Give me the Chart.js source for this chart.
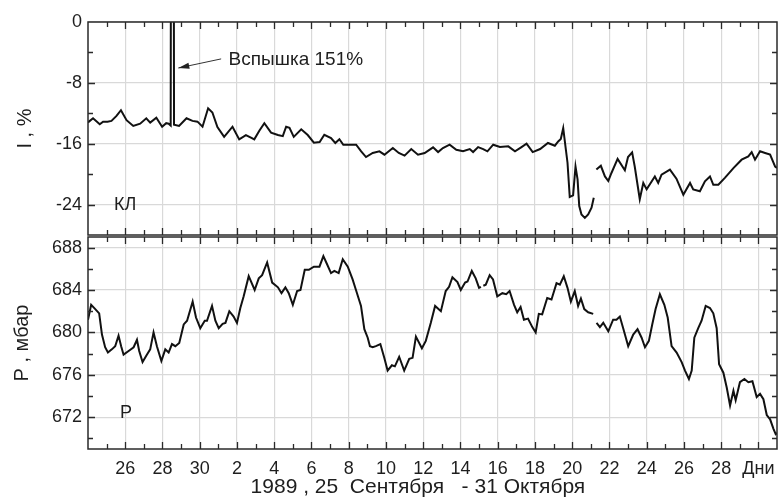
<!DOCTYPE html>
<html>
<head>
<meta charset="utf-8">
<script src="https://cdn.jsdelivr.net/npm/chart.js@4.4.1/dist/chart.umd.min.js"></script>
<style>
  body { margin: 0; background: #fff; }
  #wrap { position: relative; width: 779px; height: 501px; }
  canvas { position: absolute; left: 0; }
  #topChart { top: 0; }
  #bottomChart { top: 236px; }
</style>
</head>
<body>
<div id="wrap">
  <canvas id="topChart" width="779" height="237"></canvas>
  <canvas id="bottomChart" width="779" height="265"></canvas>
</div>
<script>
// Ось X: дни от 24 сентября (0) до 31 октября (37)
const xTickDays = [2, 4, 6, 8, 10, 12, 14, 16, 18, 20, 22, 24, 26, 28, 30, 32, 34, 36]
const xTickLabels = ['26', '28', '30', '2', '4', '6', '8', '10', '12', '14', '16', '18', '20', '22', '24', '26', '28', 'Дни']

// Верхняя панель: интенсивность КЛ, %
const iTicks = [-24, -16, -8, 0]
const iDays = [0, 0.27, 0.63, 0.81, 1.05, 1.26, 1.53, 1.77, 2.07, 2.43, 2.8, 3.13, 3.34, 3.67, 3.98, 4.2, 4.33, 4.44, 4.53, 4.62,
  4.89, 5.29, 5.61, 5.88, 6.15, 6.45, 6.68, 6.95, 7.31, 7.76, 8.12, 8.48, 8.75, 8.93, 9.2, 9.47, 9.83, 10.2, 10.46, 10.64,
  10.82, 11.05, 11.45, 11.8, 12.13, 12.44, 12.69, 13.05, 13.28, 13.5, 13.71, 14.04, 14.4, 14.67, 14.93, 15.29, 15.65, 15.92, 16.37, 16.69,
  17.0, 17.36, 17.72, 18.08, 18.53, 18.8, 19.06, 19.42, 19.78, 20.14, 20.5, 20.68, 20.95, 21.22, 21.45, 21.76, 22.12, 22.57, 22.93, 23.28,
  23.55, 23.88, 24.28, 24.7, 25.07, 25.25, 25.39, 25.52, 25.64, 25.75, 25.87, 26.05, 26.18, 26.29, 26.38, 26.5, 26.68, 26.86, 27.04, 27.16,
  27.23, 27.3, 27.54, 27.76, 27.94, 28.11, 28.44, 28.83, 29.0, 29.22, 29.36, 29.63, 29.82, 30.0, 30.44, 30.62, 30.8, 31.25, 31.6, 31.97,
  32.33, 32.5, 32.86, 33.13, 33.4, 33.58, 33.85, 34.2, 34.66, 35.1, 35.46, 35.64, 35.82, 36.09, 36.36, 36.63, 36.9, 37.0]
const iVals = [-13.2, -12.66, -13.45, -13.1, -13.1, -13.0, -12.35, -11.6, -12.9, -13.67, -13.36, -12.66, -13.23, -12.57, -13.76, -13.3, -13.36, -13.6, 151, -13.5,
  -13.67, -12.66, -13.0, -13.1, -13.76, -11.34, -11.9, -13.8, -15.1, -13.76, -15.43, -14.86, -15.2, -15.43, -14.3, -13.3, -14.55, -14.86, -15.0, -13.76,
  -13.9, -15.1, -14.1, -14.86, -15.87, -15.78, -14.82, -15.26, -15.9, -15.4, -16.13, -16.13, -16.13, -17.0, -17.75, -17.22, -17.0, -17.44, -16.57, -17.22,
  -17.57, -16.7, -17.44, -17.22, -16.48, -17.1, -16.57, -16.13, -16.79, -17.0, -16.7, -17.1, -16.44, -16.7, -17.0, -16.13, -16.44, -16.35, -17.0, -16.44,
  -16.0, -17.1, -16.7, -15.9, -16.26, -15.7, -15.39, -13.95, -16.35, -18.5, -23.0, -22.8, -19.0, -20.7, -24.2, -25.3, -25.75, -25.3, -24.4, -23.1,
  null, -19.4, -18.9, -20.3, -20.9, -19.85, -18.0, -19.5, -17.75, -17.14, -19.0, -23.3, -21.16, -22.0, -20.3, -21.16, -20.07, -19.4, -20.6, -22.7,
  -21.16, -22.0, -22.25, -20.94, -20.3, -21.4, -21.4, -20.5, -19.2, -18.1, -17.66, -17.1, -18.1, -17.0, -17.22, -17.44, -19.0, -19.2]

// Нижняя панель: давление P, мбар
const pTicks = [672, 676, 680, 684, 688]
const pDays = [0, 0.17, 0.39, 0.6, 0.75, 0.92, 1.07, 1.28, 1.46, 1.64, 1.78, 1.91, 2.18, 2.45, 2.63, 2.75, 2.93, 3.16, 3.34, 3.52,
  3.7, 3.94, 4.15, 4.33, 4.51, 4.69, 4.9, 5.14, 5.32, 5.62, 5.8, 6.03, 6.27, 6.39, 6.66, 6.84, 7.02, 7.23, 7.38, 7.59,
  7.82, 8.0, 8.18, 8.36, 8.63, 8.95, 9.17, 9.35, 9.62, 9.89, 10.2, 10.39, 10.6, 10.78, 11.0, 11.23, 11.41, 11.64, 11.86, 12.13,
  12.43, 12.64, 12.82, 13.05, 13.23, 13.46, 13.68, 13.95, 14.21, 14.39, 14.66, 14.84, 15.02, 15.14, 15.29, 15.46, 15.7, 15.91, 16.09, 16.32,
  16.48, 16.71, 16.98, 17.25, 17.43, 17.61, 17.93, 18.14, 18.41, 18.64, 18.95, 19.21, 19.39, 19.57, 19.84, 20.02, 20.25, 20.38, 20.61, 20.82,
  21.0, 21.1, 21.16, 21.23, 21.36, 21.57, 21.75, 21.98, 22.25, 22.46, 22.64, 22.88, 23.05, 23.23, 23.41, 23.63, 23.86, 24.04, 24.21, 24.39,
  24.66, 24.89, 25.16, 25.34, 25.55, 25.75, 25.93, 26.14, 26.32, 26.47, 26.65, 26.86, 27.13, 27.22, 27.31, 27.49, 27.67, 27.94, 28.2, 28.38,
  28.56, 28.74, 29.01, 29.28, 29.51, 29.73, 29.91, 30.12, 30.3, 30.48, 30.71, 30.95, 31.13, 31.34, 31.61, 31.88, 32.06, 32.27, 32.42, 32.56,
  32.77, 32.95, 33.17, 33.4, 33.58, 33.76, 33.89, 34.12, 34.3, 34.48, 34.66, 34.78, 35.01, 35.25, 35.46, 35.68, 35.91, 36.09, 36.27, 36.45,
  36.63, 36.81, 36.93, 37.0]
const pVals = [681.2, 682.6, 682.2, 681.8, 679.8, 678.6, 678.1, 678.4, 678.7, 679.7, 678.7, 677.9, 678.25, 678.6, 679.3, 678.25, 677.2, 677.9, 678.4, 680.0,
  678.7, 677.3, 678.4, 678.1, 678.9, 678.7, 679.0, 680.75, 681.1, 682.9, 681.4, 680.4, 681.1, 681.1, 682.5, 681.1, 680.4, 680.8, 680.9, 682.0,
  681.5, 680.9, 682.3, 683.4, 685.3, 684.0, 685.1, 685.4, 686.6, 684.7, 684.25, 683.7, 684.25, 683.7, 682.6, 683.9, 684.0, 685.9, 685.9, 686.2,
  686.2, 687.2, 686.5, 685.6, 685.8, 685.6, 686.9, 686.2, 685.0, 684.0, 682.5, 680.3, 679.5, 678.7, 678.6, 678.7, 678.9, 677.6, 676.4, 676.9,
  676.8, 677.7, 676.4, 677.5, 677.6, 679.6, 678.5, 679.2, 680.9, 682.5, 682.0, 683.9, 684.3, 685.2, 684.75, 684.0, 684.7, 684.8, 685.8, 685.1,
  684.2, 684.3, null, 684.4, 684.5, 685.4, 685.0, 683.4, 683.7, 683.6, 683.9, 682.6, 681.9, 682.4, 681.2, 681.3, 680.5, 680.0, 681.75, 681.7,
  683.25, 683.1, 684.65, 684.5, 685.3, 684.2, 682.9, 683.9, 682.5, 683.2, 682.2, 681.9, 681.75, null, 680.9, 680.5, 680.9, 680.1, 681.2, 681.2,
  681.5, 680.4, 678.7, 679.8, 680.3, 679.5, 678.6, 679.2, 680.75, 682.2, 683.6, 682.6, 681.4, 678.7, 678.1, 677.2, 676.4, 675.6, 676.4, 679.5,
  680.4, 681.1, 682.5, 682.3, 681.8, 680.4, 677.0, 676.2, 674.8, 673.1, 674.5, 673.6, 675.3, 675.6, 675.3, 675.4, 673.9, 674.2, 673.7, 672.2,
  671.8, 670.9, 670.4, 670.5]

Chart.defaults.font.family = '"Liberation Sans", Arial, sans-serif'
Chart.defaults.font.size = 18
Chart.defaults.color = '#1e1e1e'

const gridColor = '#d9d9d9'
const fontFam = '"Liberation Sans", Arial, sans-serif'

// Рамка и внутренние засечки
const framePlugin = {
    id: 'frame',
    afterDraw(chart, args, opts) {
        const { ctx, chartArea: a, scales } = chart
        const x = scales.x, y = scales.y
        ctx.save()
        ctx.strokeStyle = '#2a2a2a'
        ctx.lineWidth = 1.5
        ctx.strokeRect(a.left, a.top, a.right - a.left, a.bottom - a.top)
        ctx.lineWidth = 1.3
        ctx.beginPath()
        for (let d = 1; d < 37; d++) {
            const px = Math.round(x.getPixelForValue(d)) + 0.5
            const len = d % 2 === 0 ? 7 : 5
            ctx.moveTo(px, a.top); ctx.lineTo(px, a.top + len)
            ctx.moveTo(px, a.bottom); ctx.lineTo(px, a.bottom - len)
        }
        for (let v = opts.start; v < y.max; v += opts.step) {
            const py = Math.round(y.getPixelForValue(v)) + 0.5
            const len = opts.major.includes(v) ? 7 : 5
            ctx.moveTo(a.left, py); ctx.lineTo(a.left + len, py)
            ctx.moveTo(a.right, py); ctx.lineTo(a.right - len, py)
        }
        ctx.stroke()
        ctx.restore()
    }
}

// Подписи внутри панелей
const notesPlugin = {
    id: 'notes',
    afterDatasetsDraw(chart, args, opts) {
        const { ctx, scales } = chart
        const x = scales.x, y = scales.y
        ctx.save()
        ctx.fillStyle = '#1e1e1e'
        ctx.textBaseline = 'middle'
        ctx.font = '18px ' + fontFam
        ctx.fillText(opts.panel, x.getPixelForValue(opts.panelAt[0]), y.getPixelForValue(opts.panelAt[1]))
        if (opts.flare) {
            ctx.font = '19px ' + fontFam
            ctx.fillText('Вспышка 151%', x.getPixelForValue(7.55), y.getPixelForValue(-5.0))
            const x1 = x.getPixelForValue(7.15), y1 = y.getPixelForValue(-4.85)
            const x2 = x.getPixelForValue(4.85), y2 = y.getPixelForValue(-6.05)
            const ang = Math.atan2(y2 - y1, x2 - x1)
            ctx.strokeStyle = '#333'
            ctx.lineWidth = 1
            ctx.beginPath()
            ctx.moveTo(x1, y1); ctx.lineTo(x2, y2)
            ctx.stroke()
            ctx.beginPath()
            ctx.moveTo(x2, y2)
            ctx.lineTo(x2 - 11 * Math.cos(ang) + 3 * Math.sin(ang), y2 - 11 * Math.sin(ang) - 3 * Math.cos(ang))
            ctx.lineTo(x2 - 11 * Math.cos(ang) - 3 * Math.sin(ang), y2 - 11 * Math.sin(ang) + 3 * Math.cos(ang))
            ctx.closePath()
            ctx.fillStyle = '#222'
            ctx.fill()
        }
        ctx.restore()
    }
}

function makeChart(id, days, vals, yOpts, isBottom) {
    const ctx = document.getElementById(id).getContext('2d')
    return new Chart(ctx, {
        type: 'line',
        data: {
            datasets: [{
                data: days.map((d, k) => ({ x: d, y: vals[k] })),
                borderColor: '#111',
                borderWidth: 2,
                pointRadius: 0,
                tension: 0,
                spanGaps: false
            }]
        },
        options: {
            responsive: false,
            animation: false,
            layout: { padding: isBottom ? { top: 1, right: 2, bottom: 0, left: 0 } : { top: 22, right: 2, bottom: 2, left: 0 } },
            plugins: {
                legend: { display: false },
                tooltip: { enabled: false },
                frame: yOpts.frame,
                notes: yOpts.notes
            },
            scales: {
                x: {
                    type: 'linear',
                    min: 0,
                    max: 37,
                    afterBuildTicks: s => { s.ticks = xTickDays.map(v => ({ value: v })) },
                    afterFit: s => { s.height = isBottom ? 52 : 0; s.paddingLeft = 0; s.paddingRight = 0 },
                    grid: { color: gridColor, lineWidth: 1.2, drawTicks: false },
                    border: { display: false },
                    ticks: {
                        display: isBottom,
                        autoSkip: false,
                        maxRotation: 0,
                        padding: 9,
                        callback: v => xTickLabels[xTickDays.indexOf(v)]
                    },
                    title: {
                        display: isBottom,
                        text: '1989 , 25  Сентября   - 31 Октября     ',
                        font: { size: 21 },
                        padding: { top: 0, bottom: 1 }
                    }
                },
                y: {
                    min: yOpts.min,
                    max: yOpts.max,
                    afterBuildTicks: s => { s.ticks = yOpts.ticks.map(v => ({ value: v })) },
                    afterFit: s => { s.width = 88; s.paddingTop = 0; s.paddingBottom = 0 },
                    grid: { color: gridColor, lineWidth: 1.2, drawTicks: false },
                    border: { display: false },
                    ticks: { padding: 6 },
                    title: { display: true, text: yOpts.title, font: { size: 20 }, padding: { top: yOpts.titlePad } }
                }
            }
        },
        plugins: [framePlugin, notesPlugin]
    })
}

makeChart('topChart', iDays, iVals, {
    min: -28, max: 0, ticks: iTicks, title: 'I , %', titlePad: 13,
    frame: { start: -24, step: 4, major: iTicks },
    notes: { panel: 'КЛ', panelAt: [1.4, -24], flare: true }
}, false)

makeChart('bottomChart', pDays, pVals, {
    min: 669, max: 689, ticks: pTicks, title: 'P , мбар', titlePad: 10,
    frame: { start: 670, step: 2, major: pTicks },
    notes: { panel: 'P', panelAt: [1.72, 672.35], flare: false }
}, true)
</script>
</body>
</html>
